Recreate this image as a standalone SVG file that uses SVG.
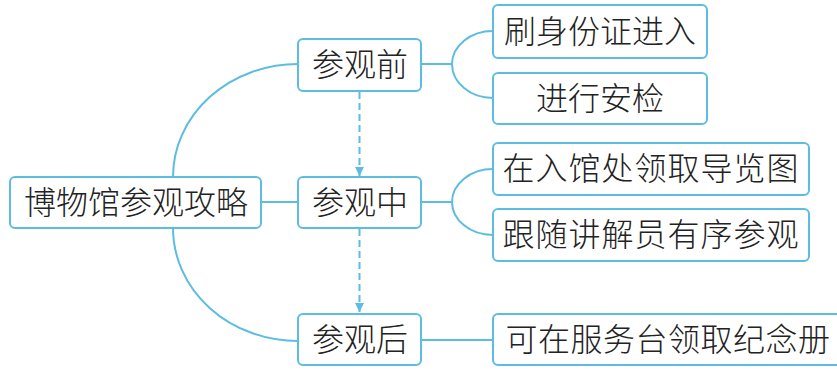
<svg xmlns="http://www.w3.org/2000/svg" width="837" height="372" viewBox="0 0 837 372">
<style>
.box{fill:#ffffff;stroke:#5cbde0;stroke-width:2}
.t{font-family:"Noto Sans CJK SC","Noto Sans",sans-serif;font-size:32px;font-weight:300;fill:#222;text-anchor:middle}
.ln{fill:none;stroke:#5cbde0;stroke-width:2}
.dash{fill:none;stroke:#5cbde0;stroke-width:2;stroke-dasharray:7 4}
</style>
<defs>
<marker id="ah" viewBox="0 0 10 10" refX="10" refY="5" markerWidth="5" markerHeight="4.5" orient="auto" markerUnits="strokeWidth">
<path d="M0,0 L10,5 L0,10 Z" fill="#5cbde0"/>
</marker>
</defs>
<rect width="837" height="372" fill="#ffffff"/>
<g id="connectors">
<path class="ln" d="M173,177 A125,113 0 0 1 298,64"/>
<path class="ln" d="M173,228 A125,113 0 0 0 298,341"/>
<path class="ln" d="M261,202 H298"/>
<path class="ln" d="M421,64 H452 M452,64 A41,33 0 0 1 493,31 M452,64 A41,34 0 0 0 493,98"/>
<path class="ln" d="M421,202 H452 M452,202 A41,33 0 0 1 493,169 M452,202 A41,33 0 0 0 493,235"/>
<path class="ln" d="M421,340 H493"/>
<path class="dash" d="M359.5,92 V176" marker-end="url(#ah)"/>
<path class="dash" d="M359.5,229 V312" marker-end="url(#ah)"/>
</g>
<g id="root"><rect class="box" x="10" y="177" width="251" height="51" rx="5"/><text class="t" x="136" y="214">博物馆参观攻略</text></g>
<g id="before"><rect class="box" x="298" y="39" width="123" height="52" rx="5"/><text class="t" x="360" y="76">参观前</text></g>
<g id="during"><rect class="box" x="298" y="177" width="123" height="51" rx="5"/><text class="t" x="360" y="214">参观中</text></g>
<g id="after"><rect class="box" x="298" y="314" width="123" height="51" rx="5"/><text class="t" x="360" y="351">参观后</text></g>
<g id="b1"><rect class="box" x="493" y="5" width="214" height="53" rx="5"/><text class="t" x="600" y="43">刷身份证进入</text></g>
<g id="b2"><rect class="box" x="493" y="73" width="214" height="51" rx="5"/><text class="t" x="600" y="110">进行安检</text></g>
<g id="d1"><rect class="box" x="493" y="143" width="316" height="52" rx="5"/><text class="t" x="651" y="180" letter-spacing="1">在入馆处领取导览图</text></g>
<g id="d2"><rect class="box" x="493" y="209" width="316" height="52" rx="5"/><text class="t" x="651" y="246" letter-spacing="1">跟随讲解员有序参观</text></g>
<g id="a1"><rect class="box" x="493" y="314" width="350" height="51" rx="5"/><text class="t" x="668" y="351" letter-spacing="0.5">可在服务台领取纪念册</text></g>
</svg>
